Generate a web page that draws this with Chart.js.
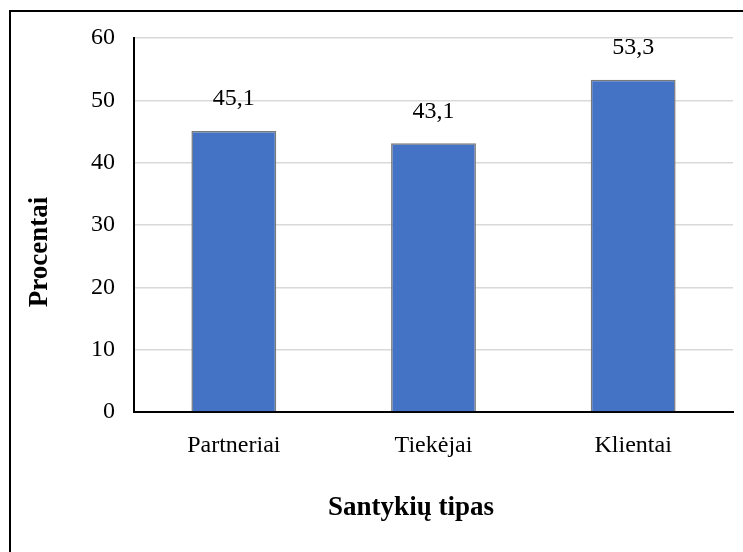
<!DOCTYPE html>
<html>
<head>
<meta charset="utf-8">
<script src="https://cdn.jsdelivr.net/npm/chart.js@4/dist/chart.umd.min.js"></script>
<style>
html,body{margin:0;padding:0;background:#fff;}
#wrap{width:743px;height:552px;position:relative;}
</style>
</head>
<body>
<div id="wrap"><canvas id="c"></canvas></div>
<script>
const categories = ["Partneriai", "Tiekėjai", "Klientai"];
const values = [45.1, 43.1, 53.3];
const valueLabels = ["45,1", "43,1", "53,3"];
const yTicks = [0, 10, 20, 30, 40, 50, 60];
const xTitle = "Santykių tipas";
const yTitle = "Procentai";

const FONT = "'Liberation Serif', 'Times New Roman', serif";

const frame = {
  id: 'frame',
  beforeDraw(chart) {
    const ctx = chart.ctx;
    ctx.save();
    ctx.fillStyle = '#fff';
    ctx.fillRect(0, 0, chart.width, chart.height);
    ctx.strokeStyle = '#000';
    ctx.lineWidth = 2;
    ctx.beginPath();
    ctx.moveTo(10, chart.height + 5);
    ctx.lineTo(10, 11);
    ctx.lineTo(chart.width + 5, 11);
    ctx.stroke();
    ctx.restore();
  }
};

const labelsAndTitles = {
  id: 'labelsAndTitles',
  afterDatasetsDraw(chart) {
    const ctx = chart.ctx;
    const meta = chart.getDatasetMeta(0);
    ctx.save();
    ctx.font = "24px " + FONT;
    ctx.fillStyle = '#000';
    ctx.textAlign = 'center';
    ctx.textBaseline = 'middle';
    meta.data.forEach((bar, i) => {
      ctx.fillText(valueLabels[i], bar.x, bar.y - 32);
    });
    ctx.font = "bold 27px " + FONT;
    ctx.fillText(xTitle, 411, 508);
    ctx.translate(40, 252);
    ctx.rotate(-Math.PI / 2);
    ctx.fillText(yTitle, 0, 0);
    ctx.restore();
  }
};

new Chart(document.getElementById('c'), {
  type: 'bar',
  data: {
    labels: categories,
    datasets: [{
      data: values,
      backgroundColor: '#4472C4',
      borderColor: '#7a7a7a',
      borderWidth: 1.5,
      categoryPercentage: 1,
      barPercentage: 0.425
    }]
  },
  options: {
    responsive: true,
    maintainAspectRatio: false,
    animation: false,
    events: [],
    layout: { padding: { left: 0, top: 38, right: 10, bottom: 0 } },
    plugins: { legend: { display: false }, tooltip: { enabled: false } },
    scales: {
      x: {
        grid: { display: false, drawTicks: false },
        border: { color: '#000', width: 2 },
        ticks: { color: '#000', font: { family: FONT, size: 24 }, padding: 19 },
        afterFit(s) { s.height = 140; }
      },
      y: {
        min: 0, max: 60,
        afterBuildTicks(s) { s.ticks = yTicks.map(v => ({ value: v })); },
        grid: { color: '#d9d9d9', lineWidth: 1.5, drawTicks: false },
        border: { color: '#000', width: 2 },
        ticks: { color: '#000', font: { family: FONT, size: 24 }, padding: 19 },
        afterFit(s) { s.width = 134; }
      }
    }
  },
  plugins: [frame, labelsAndTitles]
});
</script>
</body>
</html>
